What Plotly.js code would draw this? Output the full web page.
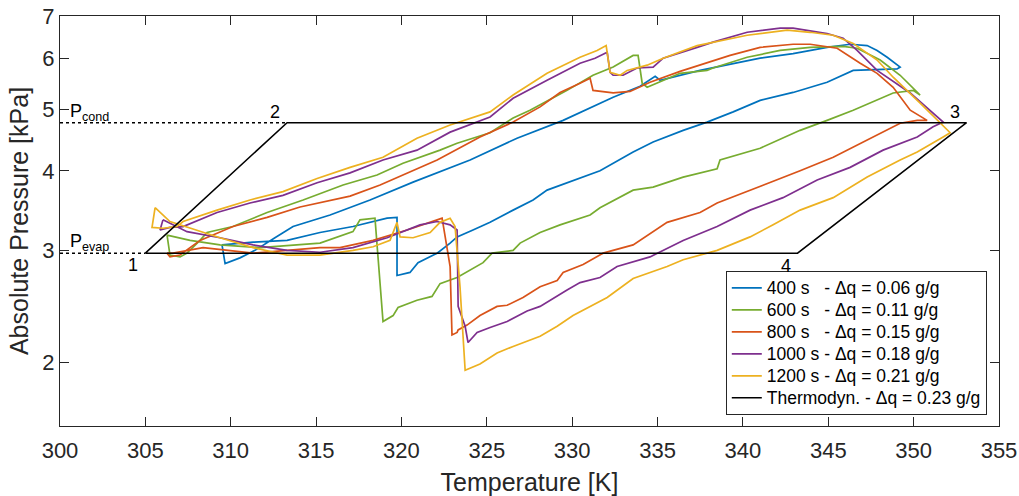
<!DOCTYPE html>
<html>
<head>
<meta charset="utf-8">
<script src="https://cdn.plot.ly/plotly-3.0.1.min.js"></script>
<style>html,body{margin:0;padding:0;background:#fff}#chart{width:1019px;height:496px}</style>
</head>
<body>
<div id="chart"></div>
<script>
// ---- Data (Temperature [K], Absolute pressure [kPa]) ----
const seriesNames = ["400 s\u00A0\u00A0\u00A0- \u0394q = 0.06 g/g","600 s\u00A0\u00A0\u00A0- \u0394q = 0.11 g/g","800 s\u00A0\u00A0\u00A0- \u0394q = 0.15 g/g","1000 s - \u0394q = 0.18 g/g","1200 s - \u0394q = 0.21 g/g","Thermodyn. - \u0394q = 0.23 g/g"];

const t400 = [309.49,309.67,310.54,311.42,312.59,313.65,315.82,318.16,320.68,324.02,326.77,329.47,332.40,332.98,333.98,334.86,335.15,337.49,341.01,342.94,344.93,346.28,347.28,347.86,348.45,349.21,349.03,346.46,344.93,342.94,341.01,339.43,337.90,336.50,334.74,333.57,331.63,328.53,327.71,326.54,325.19,324.19,323.26,322.85,322.09,320.97,320.50,319.74,319.74,319.16,317.16,315.23,313.30,311.31,309.49];
const p400 = [3.06,2.86,2.92,3.00,3.14,3.27,3.41,3.60,3.84,4.16,4.50,4.80,5.22,5.30,5.43,5.63,5.55,5.75,6.01,6.11,6.25,6.32,6.29,6.18,6.03,5.82,5.78,5.75,5.51,5.31,5.16,4.95,4.77,4.63,4.44,4.28,4.00,3.73,3.60,3.47,3.32,3.23,3.15,3.08,2.97,2.87,2.77,2.74,3.38,3.37,3.27,3.20,3.11,3.09,3.06];

const t600 = [306.27,306.44,307.03,307.44,308.20,308.61,310.13,312.13,314.24,316.58,318.57,320.09,322.26,323.26,325.19,326.54,327.53,329.70,331.22,332.40,333.57,333.86,334.10,334.39,336.32,337.90,338.25,340.25,342.18,343.94,345.87,346.69,348.04,349.21,350.38,349.97,348.80,346.46,344.93,343.35,341.01,338.66,338.49,336.50,334.74,333.57,331.63,331.05,329.29,328.12,326.95,326.54,325.31,324.78,323.26,322.26,321.79,320.91,319.80,319.51,318.92,318.45,317.57,317.16,315.23,311.72,309.37,307.62,306.27];
const p600 = [3.17,2.95,2.93,2.97,3.11,3.20,3.27,3.44,3.60,3.80,3.94,4.11,4.31,4.42,4.59,4.84,4.98,5.35,5.65,5.82,6.07,6.07,5.49,5.41,5.69,5.75,5.80,6.03,6.18,6.25,6.27,6.23,5.97,5.65,5.26,5.35,5.30,4.98,4.80,4.63,4.34,4.16,4.03,3.91,3.77,3.73,3.50,3.41,3.29,3.20,3.08,3.00,2.97,2.87,2.72,2.66,2.54,2.505,2.44,2.37,2.32,3.37,3.35,3.21,3.08,3.03,3.06,3.11,3.17];

const t800 = [306.27,306.44,307.03,308.20,310.13,312.13,314.06,316.99,318.75,322.09,324.60,326.54,328.12,329.29,330.46,331.05,331.22,332.40,333.39,334.56,336.32,339.25,341.01,342.94,343.94,345.52,346.87,347.86,348.80,349.80,350.79,350.21,349.21,347.28,345.29,343.35,340.42,338.49,337.49,335.56,333.57,332.40,331.81,330.64,329.47,329.12,328.12,327.12,326.19,325.60,324.60,323.84,323.32,323.26,322.96,322.85,322.67,322.38,322.09,320.33,318.34,316.40,315.23,311.31,308.38,306.62,306.27];
const p800 = [2.97,2.93,2.95,3.11,3.27,3.38,3.51,3.65,3.80,4.16,4.52,4.77,5.04,5.31,5.49,5.59,5.35,5.30,5.33,5.51,5.73,6.07,6.25,6.32,6.32,6.23,5.90,5.69,5.41,4.98,4.80,4.80,4.75,4.47,4.20,4.00,3.73,3.56,3.44,3.32,3.06,3.00,2.97,2.85,2.77,2.69,2.63,2.53,2.46,2.45,2.37,2.29,2.25,2.23,2.21,2.83,3.04,3.37,3.35,3.23,3.11,3.03,3.03,2.97,3.03,2.97,2.97];

const t1000 = [306.03,305.86,306.44,307.21,309.20,311.13,313.06,315.06,316.99,318.92,320.91,322.85,325.19,326.54,328.53,330.46,331.34,332.05,332.22,332.40,332.98,333.80,334.74,335.33,337.32,338.25,340.25,342.18,342.94,344.93,345.87,346.69,347.86,349.80,351.73,351.14,350.21,348.21,346.28,344.35,342.35,340.42,338.49,336.50,334.56,332.63,331.63,330.46,329.70,328.12,327.36,326.19,325.19,324.43,323.90,323.73,323.32,323.26,322.85,322.09,321.09,319.16,317.16,315.23,313.30,311.31,309.37,307.44,306.03];
const p1000 = [3.35,3.23,3.26,3.27,3.44,3.56,3.66,3.83,3.97,4.16,4.31,4.60,4.86,5.20,5.55,5.90,6.01,6.14,5.71,5.65,5.65,5.80,5.82,6.01,6.25,6.37,6.60,6.70,6.70,6.57,6.46,6.18,5.75,5.30,4.77,4.69,4.52,4.31,4.05,3.87,3.63,3.47,3.27,3.11,2.93,2.83,2.72,2.67,2.60,2.45,2.41,2.32,2.27,2.23,2.15,2.28,2.45,3.23,3.29,3.33,3.29,3.14,3.03,2.98,3.00,3.06,3.14,3.21,3.35];

const t1200 = [305.57,305.39,306.03,306.85,307.21,309.20,311.13,313.06,315.06,316.99,318.92,320.91,322.85,325.19,326.54,328.53,330.46,331.46,331.99,332.22,332.81,333.22,334.39,335.33,337.32,338.25,340.25,342.59,343.94,345.29,346.46,347.86,348.80,350.38,351.55,352.14,351.73,350.21,349.21,347.28,345.29,343.35,341.77,340.42,338.49,336.50,335.56,333.57,332.05,330.05,329.12,328.12,326.54,325.60,324.60,323.73,323.43,323.14,322.85,322.26,321.68,320.68,319.92,319.74,319.33,318.34,317.16,315.23,313.30,311.31,309.37,307.44,306.44,305.57];
const p1200 = [3.50,3.26,3.25,3.27,3.33,3.47,3.60,3.71,3.89,4.05,4.20,4.50,4.72,4.95,5.26,5.69,6.03,6.18,6.29,5.71,5.65,5.75,5.86,6.01,6.29,6.37,6.53,6.65,6.60,6.53,6.34,5.97,5.61,5.11,4.75,4.59,4.52,4.28,4.16,3.91,3.63,3.47,3.29,3.15,3.00,2.90,2.83,2.71,2.53,2.37,2.28,2.20,2.12,2.07,1.99,1.945,2.63,3.27,3.37,3.32,3.20,3.14,3.15,3.32,3.11,3.04,3.00,2.95,2.95,3.03,3.14,3.26,3.33,3.50];

// Ideal thermodynamic cycle 1-2-3-4-1
const pEvap = 2.97, pCond = 4.76;
const tThermo = [305.0, 313.3, 353.1, 343.2, 305.0];
const pThermo = [pEvap, pCond, pCond, pEvap, pEvap];
const cycleLabels = ["1","2","3","4"];
const cycleLabelT = [304.3, 312.6, 352.4, 342.5];
const cycleLabelP = [2.85, 4.95, 4.95, 2.84];

const xTicks = [300,305,310,315,320,325,330,335,340,345,350,355];
const yTicks = [2,3,4,5,6,7];

// ---- Styling ----
const colors = ["#0072BD","#77AC30","#D95319","#7E2F8E","#EDB120","#000000"];
const txt = "#262626";
const FONT = "Liberation Sans, Arial, Helvetica, sans-serif";
const legendLabel = s => '<span style="font-size:17.5px">' + s + '</span>';

const tData = [t400,t600,t800,t1000,t1200];
const pData = [p400,p600,p800,p1000,p1200];

const traces = [];
[0,1,2,3,4].forEach(i => {
  traces.push({x:tData[i], y:pData[i], type:"scatter", mode:"lines", name:legendLabel(seriesNames[i]),
    line:{color:colors[i], width:1.7}, legendrank: i+1});
});
traces.push({x:tThermo, y:pThermo, type:"scatter", mode:"lines", name:legendLabel(seriesNames[5]),
  line:{color:"#000", width:1.5}, legendrank:6});
traces.push({x:[300, tThermo[0]], y:[pEvap,pEvap], type:"scatter", mode:"lines", showlegend:false,
  line:{color:"#000", width:1.5, dash:"dot"}});
traces.push({x:[300, tThermo[1]], y:[pCond,pCond], type:"scatter", mode:"lines", showlegend:false,
  line:{color:"#000", width:1.5, dash:"dot"}});

const annotations = [];
cycleLabels.forEach((lab,i) => {
  annotations.push({x:cycleLabelT[i], y:Math.log10(cycleLabelP[i]), xref:"x", yref:"y", text:lab,
    showarrow:false, font:{family:FONT, size:18, color:"#000"}});
});
annotations.push({x:300.45, y:Math.log10(pCond), xref:"x", yref:"y", text:"P<sub>cond</sub>",
  xanchor:"left", yanchor:"bottom", yshift:-3, showarrow:false, font:{family:FONT, size:18, color:"#000"}});
annotations.push({x:300.45, y:Math.log10(pEvap), xref:"x", yref:"y", text:"P<sub>evap</sub>",
  xanchor:"left", yanchor:"bottom", yshift:-3, showarrow:false, font:{family:FONT, size:18, color:"#000"}});

const layout = {
  width:1019, height:496,
  margin:{l:60, r:20, t:16, b:70},
  paper_bgcolor:"#fff", plot_bgcolor:"#fff",
  font:{family:FONT, color:txt},
  showlegend:true,
  legend:{x:0.987, y:0.027, xanchor:"right", yanchor:"bottom", bgcolor:"#fff",
    bordercolor:txt, borderwidth:1, font:{family:FONT, size:14.6, color:"#000"},
    itemwidth:30, tracegroupgap:0},
  xaxis:{range:[300,355], tickvals:xTicks, ticktext:xTicks.map(String),
    ticks:"inside", ticklen:9, tickcolor:txt, tickwidth:1, ticklabelstandoff:4,
    showline:true, linecolor:txt, linewidth:1.2, mirror:"ticks", showgrid:false, zeroline:false,
    tickfont:{family:FONT, size:22, color:txt},
    title:{text:"Temperature [K]", font:{family:FONT, size:25, color:txt}, standoff:14}},
  yaxis:{type:"log", range:[Math.log10(1.59), Math.log10(7)], tickvals:yTicks, ticktext:yTicks.map(String),
    ticks:"inside", ticklen:9, tickcolor:txt, tickwidth:1,
    showline:true, linecolor:txt, linewidth:1.2, mirror:"ticks", showgrid:false, zeroline:false,
    tickfont:{family:FONT, size:22, color:txt},
    title:{text:"Absolute Pressure [kPa]", font:{family:FONT, size:25, color:txt}, standoff:6}},
  annotations:annotations
};

Plotly.newPlot("chart", traces, layout, {displayModeBar:false, staticPlot:true});
</script>
</body>
</html>
